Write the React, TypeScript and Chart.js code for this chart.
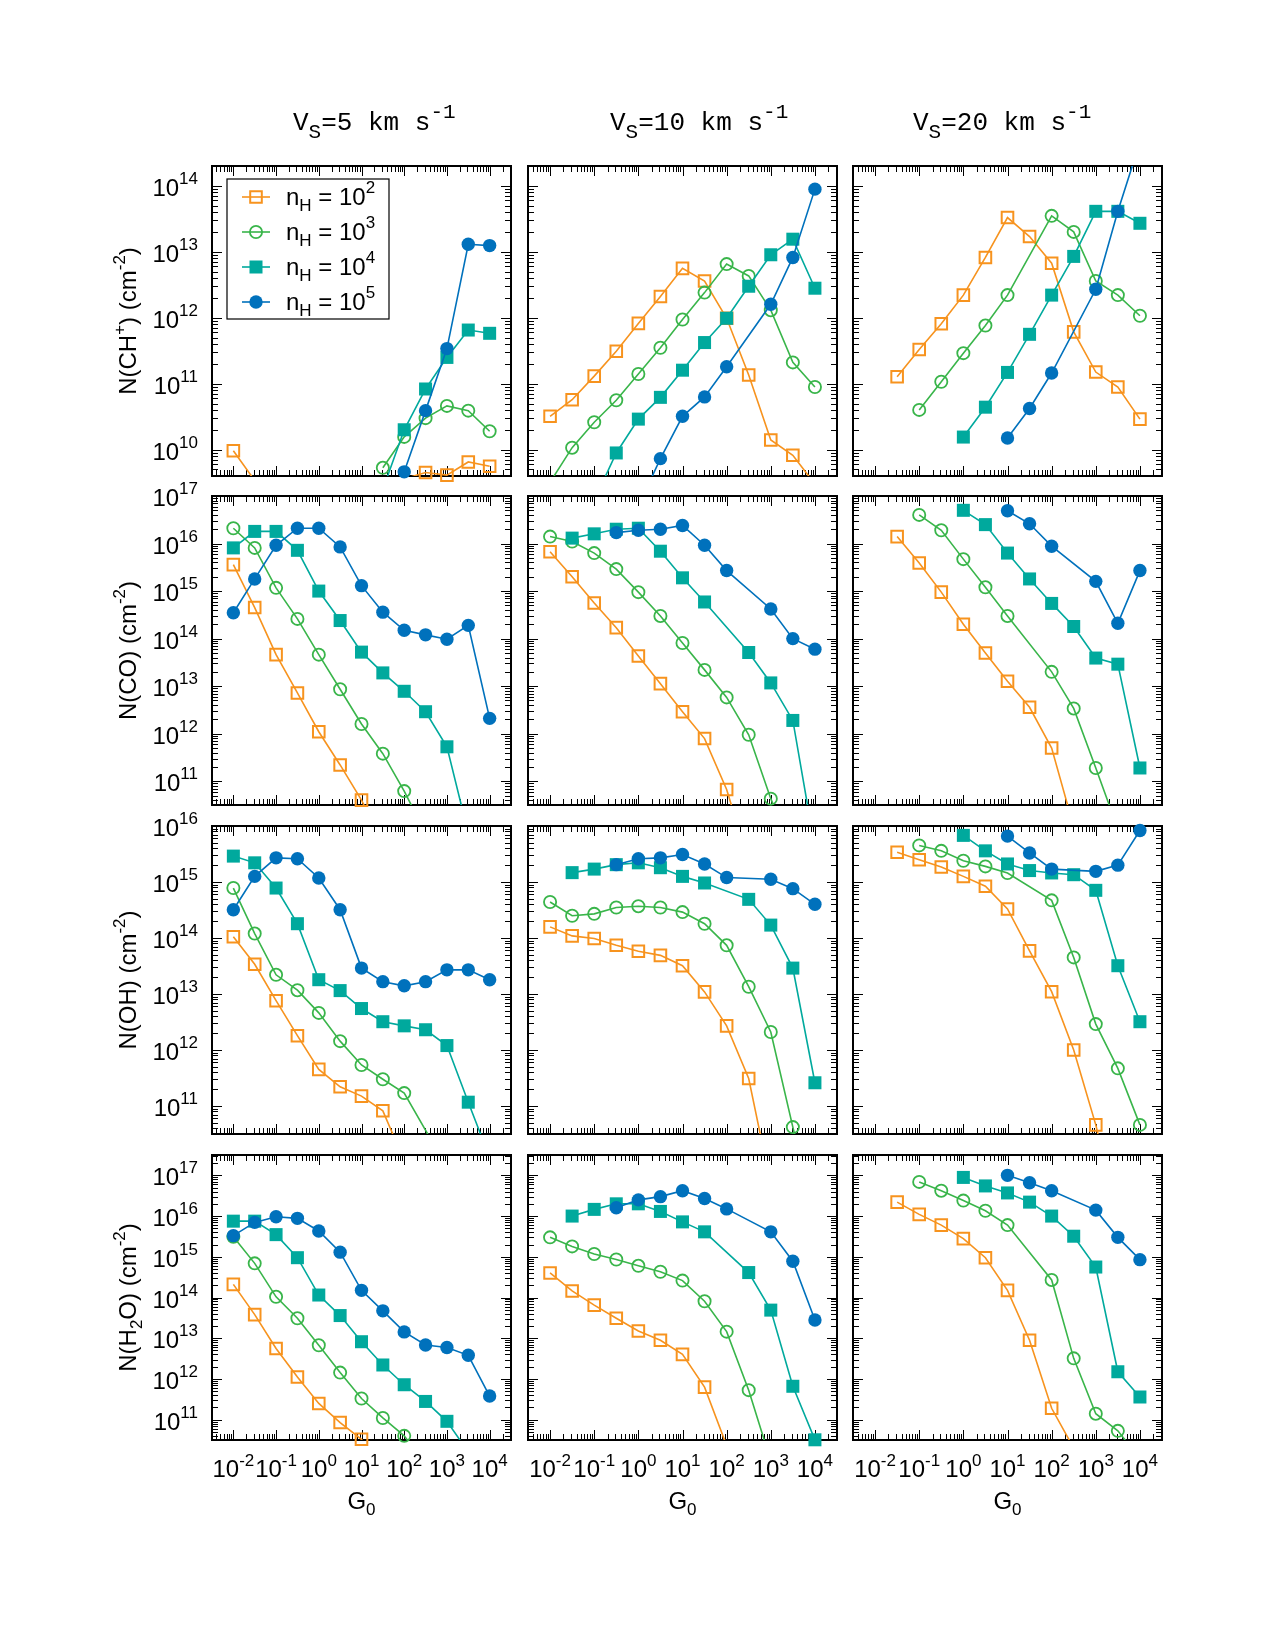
import { useEffect, useRef } from 'react';
import { Chart, registerables } from 'chart.js';

Chart.register(...registerables);

// Far-UV field strength G0, half-decade grid
const G0 = [0.01, 0.0316, 0.1, 0.316, 1, 3.16, 10, 31.6, 100, 316, 1000, 3160, 10000];

// Pre-shock density exponents, nH = 10^k cm^-3
const NH_EXPONENTS = ['2', '3', '4', '5'];
// Shock velocities (km s^-1), one per column
const SHOCK_SPEEDS = ['5', '10', '20'];
// Decades labelled along the G0 axis
const G0_LABEL_EXPONENTS = [-2, -1, 0, 1, 2, 3, 4];

// N(CH+) in cm^-2
const chp_v5_n2 = [9.6e9, 3.4e9, null, null, null, null, null, null, 3.6e9, 4.5e9, 4.1e9, 6.5e9, 5.6e9];
const chp_v5_n3 = [null, null, null, null, null, null, null, 5.3e9, 1.56e10, 3.0e10, 4.6e10, 3.9e10, 1.9e10];
const chp_v5_n4 = [null, null, null, null, null, null, null, 2.5e9, 2.0e10, 8.3e10, 2.5e11, 6.5e11, 5.8e11];
const chp_v5_n5 = [null, null, null, null, null, null, null, null, 4.6e9, 3.9e10, 3.4e11, 1.3e13, 1.24e13];
const chp_v10_n2 = [3.2e10, 5.7e10, 1.3e11, 3.1e11, 8.2e11, 2.1e12, 5.6e12, 3.6e12, 9.8e11, 1.35e11, 1.4e10, 8.2e9, 3e9];
const chp_v10_n3 = [3.2e9, 1.07e10, 2.6e10, 5.6e10, 1.4e11, 3.5e11, 9.4e11, 2.4e12, 6.5e12, 4.3e12, 1.3e12, 2.1e11, 8.9e10];
const chp_v10_n4 = [null, null, 1.7e9, 8.9e9, 2.9e10, 6.2e10, 1.6e11, 4.2e11, 9.8e11, 3.0e12, 9e12, 1.55e13, 2.8e12];
const chp_v10_n5 = [null, null, null, null, 1.4e9, 7.3e9, 3.2e10, 6.3e10, 1.8e11, null, 1.6e12, 8.2e12, 8.9e13];
const chp_v20_n2 = [null, 1.27e11, 3.3e11, 8.1e11, 2.2e12, 8.2e12, 3.3e13, 1.7e13, 6.7e12, 6.1e11, 1.5e11, 8.9e10, 2.9e10];
const chp_v20_n3 = [null, null, 4.0e10, 1.07e11, 2.9e11, 7.6e11, 2.2e12, null, 3.5e13, 2.0e13, 3.6e12, 2.2e12, 1.07e12];
const chp_v20_n4 = [null, null, null, null, 1.55e10, 4.4e10, 1.48e11, 5.6e11, 2.2e12, 8.5e12, 4.1e13, 4.1e13, 2.7e13];
const chp_v20_n5 = [null, null, null, null, null, null, 1.5e10, 4.2e10, 1.45e11, null, 2.7e12, 4.1e13, 4.6e14];

// N(CO) in cm^-2
const co_v5_n2 = [3.6e15, 4.5e14, 4.6e13, 7.2e12, 1.1e12, 2.2e11, 4.0e10, 5e9, null, null, null, null, null];
const co_v5_n3 = [2.1e16, 8.1e15, 1.17e15, 2.6e14, 4.6e13, 8.6e12, 1.6e12, 3.8e11, 6.2e10, 8e9, null, null, null];
const co_v5_n4 = [8.1e15, 1.8e16, 1.8e16, 7.2e15, 1.0e15, 2.4e14, 5.2e13, 1.9e13, 7.8e12, 2.9e12, 5.3e11, 8e9, null];
const co_v5_n5 = [3.5e14, 1.8e15, 9.2e15, 2.1e16, 2.1e16, 8.5e15, 1.3e15, 3.6e14, 1.5e14, 1.2e14, 9.7e13, 1.9e14, 2.1e12];
const co_v10_n2 = [6.7e15, 2.0e15, 5.6e14, 1.7e14, 4.3e13, 1.13e13, 2.9e12, 7.9e11, 6.7e10, 2e9, null, null, null];
const co_v10_n3 = [1.4e16, 1.1e16, 6.3e15, 2.9e15, 9.5e14, 3.0e14, 8.1e13, 2.2e13, 5.8e12, 9.5e11, 4.3e10, 3e9, null];
const co_v10_n4 = [null, 1.3e16, 1.6e16, 2.0e16, 2.1e16, 6.9e15, 1.9e15, 5.9e14, null, 5.1e13, 1.17e13, 1.9e12, 4e9];
const co_v10_n5 = [null, null, null, 1.7e16, 1.9e16, 2.0e16, 2.4e16, 9.2e15, 2.7e15, null, 4.2e14, 1.0e14, 6.0e13];
const co_v20_n2 = [null, 1.4e16, 3.9e15, 9.5e14, 2.0e14, 5.0e13, 1.27e13, 3.6e12, 5.0e11, 1.1e10, null, null, null];
const co_v20_n3 = [null, null, 4.0e16, 1.9e16, 4.7e15, 1.2e15, 3.0e14, null, 2.0e13, 3.4e12, 1.9e11, 1e10, null];
const co_v20_n4 = [null, null, null, null, 5.0e16, 2.5e16, 6.3e15, 1.8e15, 5.5e14, 1.8e14, 3.9e13, 2.9e13, 1.9e11];
const co_v20_n5 = [null, null, null, null, null, null, 4.9e16, 2.6e16, 8.8e15, null, 1.6e15, 2.1e14, 2.7e15];

// N(OH) in cm^-2
const oh_v5_n2 = [1.05e14, 3.4e13, 7.6e12, 1.8e12, 4.5e11, 2.2e11, 1.5e11, 8.2e10, 1.05e10, null, null, null, null];
const oh_v5_n3 = [7.8e14, 1.2e14, 2.2e13, 1.17e13, 4.6e12, 1.44e12, 5.4e11, 3.0e11, 1.7e11, null, 8e9, null, null];
const oh_v5_n4 = [2.9e15, 2.2e15, 7.8e14, 1.8e14, 1.8e13, 1.15e13, 5.5e12, 3.2e12, 2.7e12, 2.3e12, 1.2e12, 1.17e11, 1.2e10];
const oh_v5_n5 = [3.2e14, 1.26e15, 2.7e15, 2.6e15, 1.18e15, 3.2e14, 2.9e13, 1.66e13, 1.4e13, 1.66e13, 2.7e13, 2.7e13, 1.8e13];
const oh_v10_n2 = [1.58e14, 1.09e14, 9.8e13, 7.4e13, 5.8e13, 4.9e13, 3.2e13, 1.09e13, 2.7e12, 3.1e11, 3.9e9, null, null];
const oh_v10_n3 = [4.4e14, 2.5e14, 2.7e14, 3.5e14, 3.7e14, 3.5e14, 2.9e14, 1.8e14, 7.4e13, 1.35e13, 2.1e12, 4.2e10, 1e9];
const oh_v10_n4 = [null, 1.47e15, 1.7e15, 2.04e15, 2.2e15, 1.8e15, 1.26e15, 9.6e14, null, 4.9e14, 1.7e14, 2.9e13, 2.6e11];
const oh_v10_n5 = [null, null, null, 2.04e15, 2.6e15, 2.7e15, 3.1e15, 2.1e15, 1.2e15, null, 1.12e15, 7.6e14, 4.0e14];
const oh_v20_n2 = [null, 3.4e15, 2.5e15, 1.85e15, 1.26e15, 8.4e14, 3.3e14, 5.9e13, 1.1e13, 1.0e12, 4.6e10, 1e9, null];
const oh_v20_n3 = [null, null, 4.5e15, 3.6e15, 2.4e15, 1.9e15, 1.45e15, null, 4.7e14, 4.5e13, 2.9e12, 4.7e11, 4.6e10];
const oh_v20_n4 = [null, null, null, null, 6.8e15, 3.6e15, 2.1e15, 1.6e15, 1.45e15, 1.35e15, 7.1e14, 3.2e13, 3.2e12];
const oh_v20_n5 = [null, null, null, null, null, null, 6.6e15, 3.3e15, 1.7e15, null, 1.55e15, 2.0e15, 8.3e15];

// N(H2O) in cm^-2
const h2o_v5_n2 = [2.1e14, 3.8e13, 5.6e12, 1.12e12, 2.5e11, 8.5e10, 3.3e10, 5e9, null, null, null, null, null];
const h2o_v5_n3 = [3.1e15, 6.9e14, 1.04e14, 3.1e13, 6.7e12, 1.43e12, 3.3e11, 1.1e11, 4.0e10, 8e9, null, null, null];
const h2o_v5_n4 = [7.5e15, 7.5e15, 3.5e15, 9.5e14, 1.15e14, 3.6e13, 8.2e12, 2.2e12, 7.2e11, 2.8e11, 9.1e10, 1.6e10, null];
const h2o_v5_n5 = [3.3e15, 7.0e15, 9.6e15, 8.8e15, 4.3e15, 1.3e15, 1.5e14, 4.7e13, 1.43e13, 6.8e12, 5.9e12, 3.8e12, 3.8e11];
const h2o_v10_n2 = [4.0e14, 1.45e14, 6.5e13, 3.1e13, 1.5e13, 8.9e12, 4.0e12, 6.3e11, 2.3e10, null, null, null, null];
const h2o_v10_n3 = [3.0e15, 1.8e15, 1.17e15, 8.6e14, 6.0e14, 4.3e14, 2.6e14, 8.1e13, 1.45e13, 5.3e11, 9.6e9, null, null];
const h2o_v10_n4 = [null, 1.0e16, 1.46e16, 2.0e16, 2.0e16, 1.3e16, 7.2e15, 4.1e15, null, 4.1e14, 4.9e13, 6.6e11, 3.2e10];
const h2o_v10_n5 = [null, null, null, 1.6e16, 2.5e16, 3.0e16, 4.2e16, 2.7e16, 1.5e16, null, 4.1e15, 7.8e14, 2.8e13];
const h2o_v20_n2 = [null, 2.2e16, 1.1e16, 6.0e15, 2.8e15, 9.5e14, 1.5e14, 8.9e12, 1.9e11, 2e10, null, null, null];
const h2o_v20_n3 = [null, null, 6.9e16, 4.2e16, 2.4e16, 1.35e16, 6.0e15, null, 2.7e14, 3.2e12, 1.4e11, 5.3e10, 1.1e10];
const h2o_v20_n4 = [null, null, null, null, 8.9e16, 5.5e16, 3.7e16, 2.2e16, 1.0e16, 3.2e15, 5.6e14, 1.5e12, 3.6e11];
const h2o_v20_n5 = [null, null, null, null, null, null, 1.0e17, 6.6e16, 4.2e16, null, 1.4e16, 3.0e15, 8.5e14];

type Seg = { t: string; k?: 'sup' | 'sub' };
type Vals = (number | null)[];

const ROWS: { title: Seg[]; min: number; max: number; cols: Vals[][] }[] = [
  {
    title: [{ t: 'N(CH' }, { t: '+', k: 'sup' }, { t: ') (cm' }, { t: '-2', k: 'sup' }, { t: ')' }],
    min: Math.pow(10, 9.6), max: Math.pow(10, 14.3),
    cols: [
      [chp_v5_n2, chp_v5_n3, chp_v5_n4, chp_v5_n5],
      [chp_v10_n2, chp_v10_n3, chp_v10_n4, chp_v10_n5],
      [chp_v20_n2, chp_v20_n3, chp_v20_n4, chp_v20_n5],
    ],
  },
  {
    title: [{ t: 'N(CO) (cm' }, { t: '-2', k: 'sup' }, { t: ')' }],
    min: Math.pow(10, 10.5), max: 1e17,
    cols: [
      [co_v5_n2, co_v5_n3, co_v5_n4, co_v5_n5],
      [co_v10_n2, co_v10_n3, co_v10_n4, co_v10_n5],
      [co_v20_n2, co_v20_n3, co_v20_n4, co_v20_n5],
    ],
  },
  {
    title: [{ t: 'N(OH) (cm' }, { t: '-2', k: 'sup' }, { t: ')' }],
    min: Math.pow(10, 10.5), max: 1e16,
    cols: [
      [oh_v5_n2, oh_v5_n3, oh_v5_n4, oh_v5_n5],
      [oh_v10_n2, oh_v10_n3, oh_v10_n4, oh_v10_n5],
      [oh_v20_n2, oh_v20_n3, oh_v20_n4, oh_v20_n5],
    ],
  },
  {
    title: [{ t: 'N(H' }, { t: '2', k: 'sub' }, { t: 'O) (cm' }, { t: '-2', k: 'sup' }, { t: ')' }],
    min: Math.pow(10, 10.5), max: Math.pow(10, 17.5),
    cols: [
      [h2o_v5_n2, h2o_v5_n3, h2o_v5_n4, h2o_v5_n5],
      [h2o_v10_n2, h2o_v10_n3, h2o_v10_n4, h2o_v10_n5],
      [h2o_v20_n2, h2o_v20_n3, h2o_v20_n4, h2o_v20_n5],
    ],
  },
];

const X_MIN = Math.pow(10, -2.5);
const X_MAX = Math.pow(10, 4.5);

// Plot-area placement on the page
const COL_X = [[212, 511], [528, 837], [853, 1162]];
const ROW_Y = [[166, 476], [496, 805], [826, 1134], [1155, 1440]];
const TITLE_X_OFFSET = [81, 82, 60];

const SERIES_STYLE = [
  { color: '#F7931E', shape: 'rect', r: 8.2, filled: false, lw: 2 },
  { color: '#39B54A', shape: 'circle', r: 6.1, filled: false, lw: 1.8 },
  { color: '#00A99D', shape: 'rect', r: 9.2, filled: true, lw: 0 },
  { color: '#0071BC', shape: 'circle', r: 6.7, filled: true, lw: 0 },
];

const SANS = "'Liberation Sans', Arial, Helvetica, sans-serif";
const MONO = "'Liberation Mono', 'DejaVu Sans Mono', monospace";

function drawRich(
  ctx: CanvasRenderingContext2D, segs: Seg[], x: number, y: number,
  align: 'left' | 'center' | 'right', size: number, small: number,
  family: string, raise: number, drop: number,
) {
  const widths = segs.map((s) => {
    ctx.font = `${s.k ? small : size}px ${family}`;
    return ctx.measureText(s.t).width;
  });
  const total = widths.reduce((a, b) => a + b, 0);
  let cx = align === 'left' ? x : align === 'center' ? x - total / 2 : x - total;
  ctx.textAlign = 'left';
  ctx.textBaseline = 'alphabetic';
  segs.forEach((s, i) => {
    ctx.font = `${s.k ? small : size}px ${family}`;
    const dy = s.k === 'sup' ? -raise : s.k === 'sub' ? drop : 0;
    ctx.fillText(s.t, cx, y + dy);
    cx += widths[i];
  });
}

function logTicks(min: number, max: number) {
  const out: { v: number; major: boolean; e: number }[] = [];
  const e0 = Math.floor(Math.log10(min));
  const e1 = Math.ceil(Math.log10(max));
  for (let e = e0; e <= e1; e++) {
    for (let m = 1; m <= 9; m++) {
      const v = m * Math.pow(10, e);
      if (v >= min * 0.9999 && v <= max * 1.0001) out.push({ v, major: m === 1, e });
    }
  }
  return out;
}

function drawMarker(ctx: CanvasRenderingContext2D, style: typeof SERIES_STYLE[number], x: number, y: number) {
  ctx.save();
  ctx.beginPath();
  if (style.shape === 'rect') {
    const h = style.r * Math.SQRT1_2;
    ctx.rect(x - h, y - h, 2 * h, 2 * h);
  } else {
    ctx.arc(x, y, style.r, 0, Math.PI * 2);
  }
  if (style.filled) {
    ctx.fillStyle = style.color;
    ctx.fill();
  } else {
    ctx.strokeStyle = style.color;
    ctx.lineWidth = style.lw;
    ctx.stroke();
  }
  ctx.restore();
}

function Panel({ row, col }: { row: number; col: number }) {
  const ref = useRef<HTMLCanvasElement>(null);
  const spec = ROWS[row];
  const padL = col === 0 ? 110 : 12;
  const padR = 14;
  const padT = row === 0 ? 70 : 26;
  const padB = row === 3 ? 90 : 12;
  const [x0, x1] = COL_X[col];
  const [y0, y1] = ROW_Y[row];
  const width = x1 - x0 + padL + padR;
  const height = y1 - y0 + padT + padB;

  useEffect(() => {
    const canvas = ref.current;
    if (!canvas) return;
    const series = spec.cols[col];

    const datasets: any[] = [];
    series.forEach((vals, i) => {
      const st = SERIES_STYLE[i];
      const rank = 3 - i;
      datasets.push({
        type: 'line',
        data: G0.map((x, k) => ({ x, y: vals[k] })),
        borderColor: st.color,
        borderWidth: 1.6,
        pointRadius: 0,
        fill: false,
        spanGaps: true,
        tension: 0,
        clip: 0,
        order: 2 * rank + 1,
      });
      datasets.push({
        type: 'line',
        showLine: false,
        data: G0.map((x, k) => ({ x, y: vals[k] }))
          .filter((p) => p.y !== null && (p.y as number) >= spec.min * 0.999 && (p.y as number) <= spec.max * 1.001),
        pointStyle: st.shape,
        pointRadius: st.r,
        pointBorderColor: st.color,
        pointBackgroundColor: st.filled ? st.color : 'rgba(0,0,0,0)',
        pointBorderWidth: st.lw,
        clip: false,
        order: 2 * rank,
      });
    });

    const axesPlugin = {
      id: 'panelAxes',
      beforeDatasetsDraw(chart: any) {
        const { ctx, chartArea: a, scales } = chart;
        const xs = scales.x;
        const ys = scales.y;
        ctx.save();
        ctx.fillStyle = '#fff';
        ctx.fillRect(a.left, a.top, a.right - a.left, a.bottom - a.top);
        ctx.strokeStyle = '#000';
        ctx.lineWidth = 1;
        ctx.beginPath();
        for (const t of logTicks(X_MIN, X_MAX)) {
          const px = Math.round(xs.getPixelForValue(t.v)) + 0.5;
          const len = t.major ? 10 : 6;
          ctx.moveTo(px, a.bottom); ctx.lineTo(px, a.bottom - len);
          ctx.moveTo(px, a.top); ctx.lineTo(px, a.top + len);
        }
        for (const t of logTicks(spec.min, spec.max)) {
          const py = Math.round(ys.getPixelForValue(t.v)) + 0.5;
          const len = t.major ? 10 : 6;
          ctx.moveTo(a.left, py); ctx.lineTo(a.left + len, py);
          ctx.moveTo(a.right, py); ctx.lineTo(a.right - len, py);
        }
        ctx.stroke();
        ctx.lineWidth = 2;
        ctx.strokeRect(a.left, a.top, a.right - a.left, a.bottom - a.top);

        ctx.fillStyle = '#000';
        if (col === 0) {
          for (const t of logTicks(spec.min, spec.max)) {
            if (!t.major) continue;
            const py = ys.getPixelForValue(t.v);
            drawRich(ctx, [{ t: '10' }, { t: String(t.e), k: 'sup' }], a.left - 14, py + 10, 'right', 24, 17, SANS, 12, 0);
          }
          ctx.save();
          ctx.translate(a.left - 76, (a.top + a.bottom) / 2);
          ctx.rotate(-Math.PI / 2);
          drawRich(ctx, spec.title, 0, 0, 'center', 24, 17, SANS, 11, 6);
          ctx.restore();
        }
        if (row === 3) {
          for (const e of G0_LABEL_EXPONENTS) {
            const px = xs.getPixelForValue(Math.pow(10, e));
            drawRich(ctx, [{ t: '10' }, { t: String(e), k: 'sup' }], px, a.bottom + 37, 'center', 24, 17, SANS, 11, 0);
          }
          drawRich(ctx, [{ t: 'G' }, { t: '0', k: 'sub' }], (a.left + a.right) / 2, a.bottom + 69, 'center', 24, 17, SANS, 0, 6);
        }
        if (row === 0) {
          drawRich(
            ctx,
            [{ t: 'V' }, { t: 'S', k: 'sub' }, { t: `=${SHOCK_SPEEDS[col]} km s` }, { t: '-1', k: 'sup' }],
            a.left + TITLE_X_OFFSET[col], a.top - 36, 'left', 26, 21, MONO, 12, 8,
          );
        }
        ctx.restore();
      },
      afterDatasetsDraw(chart: any) {
        if (row !== 0 || col !== 0) return;
        const { ctx, chartArea: a } = chart;
        ctx.save();
        const bx = a.left + 15;
        const by = a.top + 13;
        ctx.fillStyle = '#fff';
        ctx.fillRect(bx, by, 162, 140);
        ctx.strokeStyle = '#000';
        ctx.lineWidth = 1.2;
        ctx.strokeRect(bx, by, 162, 140);
        NH_EXPONENTS.forEach((exp, i) => {
          const st = SERIES_STYLE[i];
          const cy = a.top + 31 + i * 35;
          ctx.strokeStyle = st.color;
          ctx.lineWidth = 1.6;
          ctx.beginPath();
          ctx.moveTo(a.left + 30, cy);
          ctx.lineTo(a.left + 58, cy);
          ctx.stroke();
          drawMarker(ctx, st, a.left + 44, cy);
          ctx.fillStyle = '#000';
          drawRich(
            ctx,
            [{ t: 'n' }, { t: 'H', k: 'sub' }, { t: ' = 10' }, { t: exp, k: 'sup' }],
            a.left + 74, cy + 8, 'left', 24, 17, SANS, 12, 6,
          );
        });
        ctx.restore();
      },
    };

    const chart = new Chart(canvas, {
      type: 'line',
      data: { datasets },
      options: {
        animation: false,
        responsive: false,
        maintainAspectRatio: false,
        events: [],
        layout: { padding: { left: padL, right: padR, top: padT, bottom: padB } },
        plugins: { legend: { display: false }, tooltip: { enabled: false } },
        scales: {
          x: { type: 'logarithmic', min: X_MIN, max: X_MAX, display: false },
          y: { type: 'logarithmic', min: spec.min, max: spec.max, display: false },
        },
      },
      plugins: [axesPlugin],
    } as any);
    return () => chart.destroy();
  }, []);

  return (
    <canvas
      ref={ref}
      width={width}
      height={height}
      style={{ position: 'absolute', left: x0 - padL, top: y0 - padT, width, height }}
    />
  );
}

export default function App() {
  const panels = [];
  for (let r = 0; r < 4; r++) {
    for (let c = 0; c < 3; c++) panels.push(<Panel key={`${r}-${c}`} row={r} col={c} />);
  }
  return (
    <div style={{ position: 'absolute', left: 0, top: 0, width: 1275, height: 1650, background: '#fff' }}>
      {panels}
    </div>
  );
}
